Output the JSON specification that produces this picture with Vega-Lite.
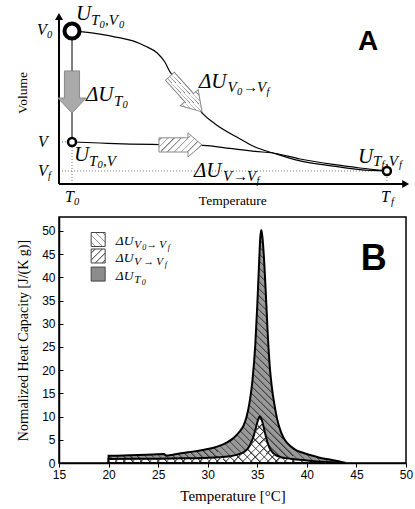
{
"$schema":"https://vega.github.io/schema/vega-lite/v6.json",
"padding":{"left":15,"top":3,"right":0,"bottom":0},
"spacing":8,
"background":"white",
"config":{"view":{"stroke":null},"axis":{"grid":false}},
"datasets":{
"dotsA":[{"T":0,"V":23.9,"T2":3.75,"V2":23.9},{"T":3.75,"V":0,"T2":3.75,"V2":23.9},{"T":0,"V":7.4,"T2":94.5,"V2":7.4},{"T":94.5,"V":0,"T2":94.5,"V2":7.4}],
"stemA":[{"T":3.75,"V":23.9,"T2":3.75,"V2":86.9}],
"axesA":[{"T":0,"V":0,"T2":0,"V2":95},{"T":0,"V":0,"T2":99.5,"V2":0}],
"headUp":[{"T":0,"V":95.2}],
"headRight":[{"T":99.9,"V":0}],
"curvesA":[
{"curve":"u","T":3.75,"V":86.9},{"curve":"u","T":6.92,"V":86.4},{"curve":"u","T":11.8,"V":85.2},{"curve":"u","T":17.6,"V":83.0},{"curve":"u","T":21.3,"V":81.3},{"curve":"u","T":24.8,"V":78.4},{"curve":"u","T":28.3,"V":74.4},{"curve":"u","T":30.5,"V":69.3},{"curve":"u","T":32.0,"V":63.6},{"curve":"u","T":34.9,"V":56.8},{"curve":"u","T":37.8,"V":50.0},{"curve":"u","T":41.5,"V":39.8},{"curve":"u","T":45.0,"V":34.1},{"curve":"u","T":52.2,"V":25.6},{"curve":"u","T":56.5,"V":21.0},{"curve":"u","T":61.7,"V":17.6},{"curve":"u","T":69.5,"V":13.1},{"curve":"u","T":79.0,"V":10.2},{"curve":"u","T":86.7,"V":8.2},{"curve":"u","T":94.5,"V":7.4},
{"curve":"l","T":3.75,"V":23.9},{"curve":"l","T":11.8,"V":23.3},{"curve":"l","T":20.5,"V":22.7},{"curve":"l","T":29.1,"V":22.4},{"curve":"l","T":41.5,"V":21.9},{"curve":"l","T":49.3,"V":20.2},{"curve":"l","T":56.5,"V":18.5},{"curve":"l","T":61.7,"V":17.6},{"curve":"l","T":69.5,"V":14.2},{"curve":"l","T":79.0,"V":11.1},{"curve":"l","T":86.7,"V":9.1},{"curve":"l","T":94.5,"V":7.4}],
"arrowT0":[{"T":3.75,"V":52.3}],
"arrowH":[{"T":35.0,"V":22.2}],
"arrowD":[{"T":36.6,"V":51.1}],
"bigCirc":[{"T":3.75,"V":86.9}],
"smallCirc":[{"T":3.75,"V":23.9},{"T":94.5,"V":7.4}],
"mainA":[{"T":4.90,"V":93.18,"s":"U"},{"T":7.78,"V":47.16,"s":"ΔU"},{"T":40.35,"V":54.55,"s":"ΔU"},{"T":4.32,"V":13.07,"s":"U"},{"T":38.90,"V":3.98,"s":"ΔU"},{"T":86.17,"V":11.93,"s":"U"}],
"subA":[{"T":9.22,"V":90.34,"s":"T"},{"T":13.26,"V":90.34,"s":",V"},{"T":15.85,"V":44.32,"s":"T"},{"T":48.56,"V":52.27,"s":"V"},{"T":53.03,"V":52.27,"s":"→"},{"T":57.06,"V":52.27,"s":"V"},{"T":8.65,"V":10.23,"s":"T"},{"T":12.68,"V":10.23,"s":",V"},{"T":47.26,"V":1.70,"s":"V"},{"T":50.14,"V":1.70,"s":"→"},{"T":54.18,"V":1.70,"s":"V"},{"T":90.49,"V":10.23,"s":"T"},{"T":93.95,"V":10.23,"s":",V"}],
"subsubA":[{"T":11.67,"V":88.92,"s":"0"},{"T":17.29,"V":88.92,"s":"0"},{"T":18.30,"V":42.90,"s":"0"},{"T":51.30,"V":50.85,"s":"0"},{"T":59.80,"V":50.85,"s":"f"},{"T":11.10,"V":8.81,"s":"0"},{"T":56.92,"V":0.28,"s":"f"},{"T":92.94,"V":8.81,"s":"f"},{"T":97.98,"V":8.81,"s":"f"},{"T":-3.46,"V":82.95,"s":"0"},{"T":-3.17,"V":2.84,"s":"f"},{"T":4.32,"V":-11.93,"s":"0"},{"T":95.68,"V":-11.93,"s":"f"}],
"axisLabA":[{"T":-6.34,"V":84.66,"s":"V"},{"T":-6.05,"V":21.02,"s":"V"},{"T":-6.05,"V":4.55,"s":"V"},{"T":1.73,"V":-10.23,"s":"T"},{"T":92.80,"V":-10.23,"s":"T"}],
"tempA":[{"T":50.1,"V":-11.9,"s":"Temperature"}],
"volA":[{"T":-10.4,"V":51.7,"s":"Volume"}],
"letterA":[{"T":86.2,"V":76.1,"s":"A"}],
"bigB":[{"T":20,"C":1.57},{"T":21.5,"C":1.6},{"T":23,"C":1.7},{"T":24.5,"C":1.85},{"T":25.6,"C":1.95},{"T":25.8,"C":1.6},{"T":26.5,"C":1.8},{"T":27.5,"C":2.15},{"T":28.5,"C":2.45},{"T":29.5,"C":2.8},{"T":30.5,"C":3.25},{"T":31.3,"C":3.8},{"T":31.9,"C":4.4},{"T":32.5,"C":5.2},{"T":32.9,"C":6.0},{"T":33.3,"C":7.0},{"T":33.6,"C":8.0},{"T":33.9,"C":9.8},{"T":34.2,"C":12.8},{"T":34.5,"C":17.5},{"T":34.8,"C":25.5},{"T":35.0,"C":34},{"T":35.2,"C":44},{"T":35.3,"C":48.5},{"T":35.4,"C":50.2},{"T":35.5,"C":49},{"T":35.65,"C":45},{"T":35.85,"C":37},{"T":36.05,"C":28},{"T":36.25,"C":21},{"T":36.5,"C":15.8},{"T":36.75,"C":12.3},{"T":37.0,"C":9.5},{"T":37.4,"C":6.6},{"T":37.8,"C":4.9},{"T":38.3,"C":3.7},{"T":38.9,"C":2.8},{"T":39.6,"C":2.2},{"T":40.5,"C":1.6},{"T":41.2,"C":1.2},{"T":42,"C":0.85},{"T":42.8,"C":0.55},{"T":43.4,"C":0.3},{"T":43.85,"C":0.05}],
"smallB":[{"T":20,"C":0.88},{"T":22.5,"C":0.9},{"T":25,"C":0.93},{"T":27.5,"C":1.0},{"T":29.5,"C":1.08},{"T":31,"C":1.22},{"T":32.2,"C":1.45},{"T":33,"C":1.8},{"T":33.6,"C":2.3},{"T":34,"C":3.0},{"T":34.3,"C":4.0},{"T":34.6,"C":5.6},{"T":34.85,"C":7.5},{"T":35.05,"C":9.1},{"T":35.25,"C":10.0},{"T":35.45,"C":9.3},{"T":35.7,"C":7.2},{"T":35.95,"C":5.0},{"T":36.2,"C":3.4},{"T":36.5,"C":2.4},{"T":36.8,"C":1.8},{"T":37.3,"C":1.3},{"T":37.9,"C":1.05},{"T":38.6,"C":0.85},{"T":39.3,"C":0.68},{"T":40.2,"C":0.5},{"T":41,"C":0.35},{"T":42,"C":0.2},{"T":43,"C":0.08},{"T":43.8,"C":0.02}],
"sq1":[{"T":18.95,"C":48.15}],
"sq2":[{"T":18.95,"C":44.6}],
"sq3":[{"T":18.95,"C":40.7}],
"legMain":[{"T":20.72,"C":46.97,"s":"ΔU"},{"T":20.72,"C":43.31,"s":"ΔU"},{"T":20.72,"C":39.43,"s":"ΔU"}],
"legSub":[{"T":22.58,"C":46.32,"s":"V"},{"T":23.79,"C":46.32,"s":"→"},{"T":25.11,"C":46.32,"s":"V"},{"T":22.58,"C":42.66,"s":"V"},{"T":23.49,"C":42.66,"s":"→"},{"T":24.80,"C":42.66,"s":"V"},{"T":22.58,"C":38.78,"s":"T"}],
"legSubSub":[{"T":23.39,"C":45.89,"s":"0"},{"T":25.96,"C":45.89,"s":"f"},{"T":25.66,"C":42.23,"s":"f"},{"T":23.34,"C":38.35,"s":"0"}],
"letterB":[{"T":45.43,"C":41.6,"s":"B"}]
},
"vconcat":[
{
"width":347,"height":176,
"encoding":{
"x":{"field":"T","type":"quantitative","scale":{"domain":[0,100],"nice":false,"zero":false},"axis":null},
"y":{"field":"V","type":"quantitative","scale":{"domain":[0,100],"nice":false,"zero":false},"axis":null}
},
"layer":[
{"data":{"name":"dotsA"},"mark":{"type":"rule","stroke":"#777","strokeWidth":1,"strokeDash":[1,2]},"encoding":{"x2":{"field":"T2"},"y2":{"field":"V2"}}},
{"data":{"name":"stemA"},"mark":{"type":"rule","stroke":"#555","strokeWidth":1.5},"encoding":{"x2":{"field":"T2"},"y2":{"field":"V2"}}},
{"data":{"name":"axesA"},"mark":{"type":"rule","stroke":"black","strokeWidth":2},"encoding":{"x2":{"field":"T2"},"y2":{"field":"V2"}}},
{"data":{"name":"headUp"},"mark":{"type":"point","shape":"triangle-up","size":64,"filled":true,"fill":"black","strokeWidth":0,"opacity":1}},
{"data":{"name":"headRight"},"mark":{"type":"point","shape":"triangle-right","size":64,"filled":true,"fill":"black","strokeWidth":0,"opacity":1}},
{"data":{"name":"curvesA"},"mark":{"type":"line","color":"black","strokeWidth":1.2,"interpolate":"monotone"},"encoding":{"detail":{"field":"curve"}}},
{"data":{"name":"arrowT0"},"mark":{"type":"point","shape":"M-1,-0.36L0.29,-0.36L0.29,-0.67L1,0L0.29,0.67L0.29,0.36L-1,0.36Z","angle":90,"size":1764,"filled":true,"fill":"#aaa","stroke":"#888","strokeWidth":1,"opacity":1}},
{"data":{"name":"arrowH"},"mark":{"type":"point","shape":"M-1,-0.33L0.35,-0.33L0.35,-0.56L1,0L0.35,0.56L0.35,0.33L-1,0.33Z","size":1849,"filled":true,"stroke":"#888","strokeWidth":1,"opacity":1,
"fill":{"gradient":"linear","x1":0,"y1":0,"x2":1.188,"y2":0.663,"stops":[{"offset":0,"color":"#777"},{"offset":0.03,"color":"#fff"},{"offset":0.1,"color":"#fff"},{"offset":0.1,"color":"#777"},{"offset":0.13,"color":"#fff"},{"offset":0.2,"color":"#fff"},{"offset":0.2,"color":"#777"},{"offset":0.23,"color":"#fff"},{"offset":0.3,"color":"#fff"},{"offset":0.3,"color":"#777"},{"offset":0.33,"color":"#fff"},{"offset":0.4,"color":"#fff"},{"offset":0.4,"color":"#777"},{"offset":0.43,"color":"#fff"},{"offset":0.5,"color":"#fff"},{"offset":0.5,"color":"#777"},{"offset":0.53,"color":"#fff"},{"offset":0.6,"color":"#fff"},{"offset":0.6,"color":"#777"},{"offset":0.63,"color":"#fff"},{"offset":0.7,"color":"#fff"},{"offset":0.7,"color":"#777"},{"offset":0.73,"color":"#fff"},{"offset":0.8,"color":"#fff"},{"offset":0.8,"color":"#777"},{"offset":0.83,"color":"#fff"},{"offset":0.9,"color":"#fff"},{"offset":0.9,"color":"#777"},{"offset":0.93,"color":"#fff"},{"offset":1,"color":"#fff"}]}}},
{"data":{"name":"arrowD"},"mark":{"type":"point","shape":"M-1,-0.25L0.2,-0.25L0.2,-0.5L1,0L0.2,0.5L0.2,0.25L-1,0.25Z","angle":48,"size":2304,"filled":true,"stroke":"#888","strokeWidth":1,"opacity":1,
"fill":{"gradient":"linear","x1":0,"y1":0,"x2":0,"y2":1,"stops":[{"offset":0,"color":"#777"},{"offset":0.04,"color":"#fff"},{"offset":0.125,"color":"#fff"},{"offset":0.125,"color":"#777"},{"offset":0.165,"color":"#fff"},{"offset":0.25,"color":"#fff"},{"offset":0.25,"color":"#777"},{"offset":0.29,"color":"#fff"},{"offset":0.375,"color":"#fff"},{"offset":0.375,"color":"#777"},{"offset":0.415,"color":"#fff"},{"offset":0.5,"color":"#fff"},{"offset":0.5,"color":"#777"},{"offset":0.54,"color":"#fff"},{"offset":0.625,"color":"#fff"},{"offset":0.625,"color":"#777"},{"offset":0.665,"color":"#fff"},{"offset":0.75,"color":"#fff"},{"offset":0.75,"color":"#777"},{"offset":0.79,"color":"#fff"},{"offset":0.875,"color":"#fff"},{"offset":0.875,"color":"#777"},{"offset":0.915,"color":"#fff"},{"offset":1,"color":"#fff"}]}}},
{"data":{"name":"bigCirc"},"mark":{"type":"point","shape":"circle","size":225,"filled":true,"fill":"white","stroke":"black","strokeWidth":4,"opacity":1}},
{"data":{"name":"smallCirc"},"mark":{"type":"point","shape":"circle","size":64,"filled":true,"fill":"white","stroke":"black","strokeWidth":2.5,"opacity":1}},
{"data":{"name":"mainA"},"mark":{"type":"text","font":"Liberation Serif","fontStyle":"italic","fontSize":21,"align":"left","baseline":"alphabetic","color":"black"},"encoding":{"text":{"field":"s"}}},
{"data":{"name":"subA"},"mark":{"type":"text","font":"Liberation Serif","fontStyle":"italic","fontSize":15,"align":"left","baseline":"alphabetic","color":"black"},"encoding":{"text":{"field":"s"}}},
{"data":{"name":"subsubA"},"mark":{"type":"text","font":"Liberation Serif","fontStyle":"italic","fontSize":10.5,"align":"left","baseline":"alphabetic","color":"black"},"encoding":{"text":{"field":"s"}}},
{"data":{"name":"axisLabA"},"mark":{"type":"text","font":"Liberation Serif","fontStyle":"italic","fontSize":16,"align":"left","baseline":"alphabetic","color":"black"},"encoding":{"text":{"field":"s"}}},
{"data":{"name":"tempA"},"mark":{"type":"text","font":"Liberation Serif","fontSize":13.5,"align":"center","baseline":"alphabetic","color":"black"},"encoding":{"text":{"field":"s"}}},
{"data":{"name":"volA"},"mark":{"type":"text","font":"Liberation Serif","fontSize":13.5,"align":"center","baseline":"middle","angle":270,"color":"black"},"encoding":{"text":{"field":"s"}}},
{"data":{"name":"letterA"},"mark":{"type":"text","font":"Liberation Sans","fontWeight":"bold","fontSize":28,"align":"left","baseline":"alphabetic","color":"black"},"encoding":{"text":{"field":"s"}}}
]
},
{
"width":347,"height":246,
"view":{"stroke":"black","strokeWidth":1.5},
"encoding":{
"x":{"field":"T","type":"quantitative","scale":{"domain":[15,50],"nice":false,"zero":false},
"axis":{"values":[15,20,25,30,35,40,45,50],"title":"Temperature [°C]","titleFont":"Liberation Serif","titleFontSize":15,"titleFontWeight":"normal","titleColor":"black","titlePadding":8,"labelFont":"Liberation Sans","labelFontSize":12,"labelColor":"black","labelPadding":2,"labelFlush":false,"tickColor":"black","tickSize":4,"domainColor":"black","domainWidth":1.5,"grid":false}},
"y":{"field":"C","type":"quantitative","stack":null,"scale":{"domain":[0,53],"nice":false},
"axis":{"values":[0,5,10,15,20,25,30,35,40,45,50],"title":"Normalized Heat Capacity [J/(K g)]","titleFont":"Liberation Serif","titleFontSize":14,"titleFontWeight":"normal","titleColor":"black","titlePadding":11,"labelFont":"Liberation Sans","labelFontSize":12,"labelColor":"black","labelPadding":8,"tickColor":"black","tickSize":-4,"domainColor":"black","domainWidth":1.5,"grid":false}}
},
"layer":[
{"data":{"name":"bigB"},"mark":{"type":"area","interpolate":"monotone","stroke":"black","strokeWidth":2,"opacity":1,
"fill":{"gradient":"linear","x1":0,"y1":1,"x2":1,"y2":0,"stops":[
{"offset":0,"color":"#333"},{"offset":0.005,"color":"#999"},{"offset":0.015,"color":"#999"},
{"offset":0.015,"color":"#333"},{"offset":0.02,"color":"#999"},{"offset":0.03,"color":"#999"},
{"offset":0.03,"color":"#333"},{"offset":0.035,"color":"#999"},{"offset":0.045,"color":"#999"},
{"offset":0.045,"color":"#333"},{"offset":0.05,"color":"#999"},{"offset":0.06,"color":"#999"},
{"offset":0.06,"color":"#333"},{"offset":0.065,"color":"#999"},{"offset":0.075,"color":"#999"},
{"offset":0.075,"color":"#333"},{"offset":0.08,"color":"#999"},{"offset":0.09,"color":"#999"},
{"offset":0.09,"color":"#333"},{"offset":0.095,"color":"#999"},{"offset":0.105,"color":"#999"},
{"offset":0.105,"color":"#333"},{"offset":0.11,"color":"#999"},{"offset":0.12,"color":"#999"},
{"offset":0.12,"color":"#333"},{"offset":0.125,"color":"#999"},{"offset":0.135,"color":"#999"},
{"offset":0.135,"color":"#333"},{"offset":0.14,"color":"#999"},{"offset":0.15,"color":"#999"},
{"offset":0.15,"color":"#333"},{"offset":0.155,"color":"#999"},{"offset":0.165,"color":"#999"},
{"offset":0.165,"color":"#333"},{"offset":0.17,"color":"#999"},{"offset":0.18,"color":"#999"},
{"offset":0.18,"color":"#333"},{"offset":0.185,"color":"#999"},{"offset":0.195,"color":"#999"},
{"offset":0.195,"color":"#333"},{"offset":0.2,"color":"#999"},{"offset":0.21,"color":"#999"},
{"offset":0.21,"color":"#333"},{"offset":0.215,"color":"#999"},{"offset":0.225,"color":"#999"},
{"offset":0.225,"color":"#333"},{"offset":0.23,"color":"#999"},{"offset":0.24,"color":"#999"},
{"offset":0.24,"color":"#333"},{"offset":0.245,"color":"#999"},{"offset":0.255,"color":"#999"},
{"offset":0.255,"color":"#333"},{"offset":0.26,"color":"#999"},{"offset":0.27,"color":"#999"},
{"offset":0.27,"color":"#333"},{"offset":0.275,"color":"#999"},{"offset":0.285,"color":"#999"},
{"offset":0.285,"color":"#333"},{"offset":0.29,"color":"#999"},{"offset":0.3,"color":"#999"},
{"offset":0.3,"color":"#333"},{"offset":0.305,"color":"#999"},{"offset":0.315,"color":"#999"},
{"offset":0.315,"color":"#333"},{"offset":0.32,"color":"#999"},{"offset":0.33,"color":"#999"},
{"offset":0.33,"color":"#333"},{"offset":0.335,"color":"#999"},{"offset":0.345,"color":"#999"},
{"offset":0.345,"color":"#333"},{"offset":0.35,"color":"#999"},{"offset":0.36,"color":"#999"},
{"offset":0.36,"color":"#333"},{"offset":0.365,"color":"#999"},{"offset":0.375,"color":"#999"},
{"offset":0.375,"color":"#333"},{"offset":0.38,"color":"#999"},{"offset":0.39,"color":"#999"},
{"offset":0.39,"color":"#333"},{"offset":0.395,"color":"#999"},{"offset":0.405,"color":"#999"},
{"offset":0.405,"color":"#333"},{"offset":0.41,"color":"#999"},{"offset":0.42,"color":"#999"},
{"offset":0.42,"color":"#333"},{"offset":0.425,"color":"#999"},{"offset":0.435,"color":"#999"},
{"offset":0.435,"color":"#333"},{"offset":0.44,"color":"#999"},{"offset":0.45,"color":"#999"},
{"offset":0.45,"color":"#333"},{"offset":0.455,"color":"#999"},{"offset":0.465,"color":"#999"},
{"offset":0.465,"color":"#333"},{"offset":0.47,"color":"#999"},{"offset":0.48,"color":"#999"},
{"offset":0.48,"color":"#333"},{"offset":0.485,"color":"#999"},{"offset":0.495,"color":"#999"},
{"offset":0.495,"color":"#333"},{"offset":0.5,"color":"#999"},{"offset":0.51,"color":"#999"},
{"offset":0.51,"color":"#333"},{"offset":0.515,"color":"#999"},{"offset":0.525,"color":"#999"},
{"offset":0.525,"color":"#333"},{"offset":0.53,"color":"#999"},{"offset":0.54,"color":"#999"},
{"offset":0.54,"color":"#333"},{"offset":0.545,"color":"#999"},{"offset":0.555,"color":"#999"},
{"offset":0.555,"color":"#333"},{"offset":0.56,"color":"#999"},{"offset":0.57,"color":"#999"},
{"offset":0.57,"color":"#333"},{"offset":0.575,"color":"#999"},{"offset":0.585,"color":"#999"},
{"offset":0.585,"color":"#333"},{"offset":0.59,"color":"#999"},{"offset":0.6,"color":"#999"},
{"offset":0.6,"color":"#333"},{"offset":0.605,"color":"#999"},{"offset":0.615,"color":"#999"},
{"offset":0.615,"color":"#333"},{"offset":0.62,"color":"#999"},{"offset":0.63,"color":"#999"},
{"offset":0.63,"color":"#333"},{"offset":0.635,"color":"#999"},{"offset":0.645,"color":"#999"},
{"offset":0.645,"color":"#333"},{"offset":0.65,"color":"#999"},{"offset":0.66,"color":"#999"},
{"offset":0.66,"color":"#333"},{"offset":0.665,"color":"#999"},{"offset":0.675,"color":"#999"},
{"offset":0.675,"color":"#333"},{"offset":0.68,"color":"#999"},{"offset":0.69,"color":"#999"},
{"offset":0.69,"color":"#333"},{"offset":0.695,"color":"#999"},{"offset":0.705,"color":"#999"},
{"offset":0.705,"color":"#333"},{"offset":0.71,"color":"#999"},{"offset":0.72,"color":"#999"},
{"offset":0.72,"color":"#333"},{"offset":0.725,"color":"#999"},{"offset":0.735,"color":"#999"},
{"offset":0.735,"color":"#333"},{"offset":0.74,"color":"#999"},{"offset":0.75,"color":"#999"},
{"offset":0.75,"color":"#333"},{"offset":0.755,"color":"#999"},{"offset":0.765,"color":"#999"},
{"offset":0.765,"color":"#333"},{"offset":0.77,"color":"#999"},{"offset":0.78,"color":"#999"},
{"offset":0.78,"color":"#333"},{"offset":0.785,"color":"#999"},{"offset":0.795,"color":"#999"},
{"offset":0.795,"color":"#333"},{"offset":0.8,"color":"#999"},{"offset":0.81,"color":"#999"},
{"offset":0.81,"color":"#333"},{"offset":0.815,"color":"#999"},{"offset":0.825,"color":"#999"},
{"offset":0.825,"color":"#333"},{"offset":0.83,"color":"#999"},{"offset":0.84,"color":"#999"},
{"offset":0.84,"color":"#333"},{"offset":0.845,"color":"#999"},{"offset":0.855,"color":"#999"},
{"offset":0.855,"color":"#333"},{"offset":0.86,"color":"#999"},{"offset":0.87,"color":"#999"},
{"offset":0.87,"color":"#333"},{"offset":0.875,"color":"#999"},{"offset":0.885,"color":"#999"},
{"offset":0.885,"color":"#333"},{"offset":0.89,"color":"#999"},{"offset":0.9,"color":"#999"},
{"offset":0.9,"color":"#333"},{"offset":0.905,"color":"#999"},{"offset":0.915,"color":"#999"},
{"offset":0.915,"color":"#333"},{"offset":0.92,"color":"#999"},{"offset":0.93,"color":"#999"},
{"offset":0.93,"color":"#333"},{"offset":0.935,"color":"#999"},{"offset":0.945,"color":"#999"},
{"offset":0.945,"color":"#333"},{"offset":0.95,"color":"#999"},{"offset":0.96,"color":"#999"},
{"offset":0.96,"color":"#333"},{"offset":0.965,"color":"#999"},{"offset":0.975,"color":"#999"},
{"offset":0.975,"color":"#333"},{"offset":0.98,"color":"#999"},{"offset":0.99,"color":"#999"},
{"offset":0.99,"color":"#333"},{"offset":0.995,"color":"#999"},{"offset":1,"color":"#999"}]}}},
{"data":{"name":"smallB"},"mark":{"type":"area","interpolate":"monotone","stroke":"black","strokeWidth":2,"opacity":1,
"fill":{"gradient":"linear","x1":0,"y1":1,"x2":1.151,"y2":0.776,"stops":[
{"offset":0,"color":"#333"},{"offset":0.008,"color":"#fff"},{"offset":0.03,"color":"#fff"},
{"offset":0.03,"color":"#333"},{"offset":0.038,"color":"#fff"},{"offset":0.06,"color":"#fff"},
{"offset":0.06,"color":"#333"},{"offset":0.068,"color":"#fff"},{"offset":0.09,"color":"#fff"},
{"offset":0.09,"color":"#333"},{"offset":0.098,"color":"#fff"},{"offset":0.12,"color":"#fff"},
{"offset":0.12,"color":"#333"},{"offset":0.128,"color":"#fff"},{"offset":0.15,"color":"#fff"},
{"offset":0.15,"color":"#333"},{"offset":0.158,"color":"#fff"},{"offset":0.18,"color":"#fff"},
{"offset":0.18,"color":"#333"},{"offset":0.188,"color":"#fff"},{"offset":0.21,"color":"#fff"},
{"offset":0.21,"color":"#333"},{"offset":0.218,"color":"#fff"},{"offset":0.24,"color":"#fff"},
{"offset":0.24,"color":"#333"},{"offset":0.248,"color":"#fff"},{"offset":0.27,"color":"#fff"},
{"offset":0.27,"color":"#333"},{"offset":0.278,"color":"#fff"},{"offset":0.3,"color":"#fff"},
{"offset":0.3,"color":"#333"},{"offset":0.308,"color":"#fff"},{"offset":0.33,"color":"#fff"},
{"offset":0.33,"color":"#333"},{"offset":0.338,"color":"#fff"},{"offset":0.36,"color":"#fff"},
{"offset":0.36,"color":"#333"},{"offset":0.368,"color":"#fff"},{"offset":0.39,"color":"#fff"},
{"offset":0.39,"color":"#333"},{"offset":0.398,"color":"#fff"},{"offset":0.42,"color":"#fff"},
{"offset":0.42,"color":"#333"},{"offset":0.428,"color":"#fff"},{"offset":0.45,"color":"#fff"},
{"offset":0.45,"color":"#333"},{"offset":0.458,"color":"#fff"},{"offset":0.48,"color":"#fff"},
{"offset":0.48,"color":"#333"},{"offset":0.488,"color":"#fff"},{"offset":0.51,"color":"#fff"},
{"offset":0.51,"color":"#333"},{"offset":0.518,"color":"#fff"},{"offset":0.54,"color":"#fff"},
{"offset":0.54,"color":"#333"},{"offset":0.548,"color":"#fff"},{"offset":0.57,"color":"#fff"},
{"offset":0.57,"color":"#333"},{"offset":0.578,"color":"#fff"},{"offset":0.6,"color":"#fff"},
{"offset":0.6,"color":"#333"},{"offset":0.608,"color":"#fff"},{"offset":0.63,"color":"#fff"},
{"offset":0.63,"color":"#333"},{"offset":0.638,"color":"#fff"},{"offset":0.66,"color":"#fff"},
{"offset":0.66,"color":"#333"},{"offset":0.668,"color":"#fff"},{"offset":0.69,"color":"#fff"},
{"offset":0.69,"color":"#333"},{"offset":0.698,"color":"#fff"},{"offset":0.72,"color":"#fff"},
{"offset":0.72,"color":"#333"},{"offset":0.728,"color":"#fff"},{"offset":0.75,"color":"#fff"},
{"offset":0.75,"color":"#333"},{"offset":0.758,"color":"#fff"},{"offset":0.78,"color":"#fff"},
{"offset":0.78,"color":"#333"},{"offset":0.788,"color":"#fff"},{"offset":0.81,"color":"#fff"},
{"offset":0.81,"color":"#333"},{"offset":0.818,"color":"#fff"},{"offset":0.84,"color":"#fff"},
{"offset":0.84,"color":"#333"},{"offset":0.848,"color":"#fff"},{"offset":0.87,"color":"#fff"},
{"offset":0.87,"color":"#333"},{"offset":0.878,"color":"#fff"},{"offset":0.9,"color":"#fff"},
{"offset":0.9,"color":"#333"},{"offset":0.908,"color":"#fff"},{"offset":0.93,"color":"#fff"},
{"offset":0.93,"color":"#333"},{"offset":0.938,"color":"#fff"},{"offset":0.96,"color":"#fff"},
{"offset":0.96,"color":"#333"},{"offset":0.968,"color":"#fff"},{"offset":0.99,"color":"#fff"},
{"offset":0.99,"color":"#333"},{"offset":0.998,"color":"#fff"},{"offset":1,"color":"#fff"}]}}},
{"data":{"name":"smallB"},"mark":{"type":"area","interpolate":"monotone","strokeWidth":0,"opacity":1,
"fill":{"gradient":"linear","x1":0,"y1":0,"x2":1.151,"y2":0.2245,"stops":[
{"offset":0,"color":"#333"},{"offset":0.008,"color":"transparent"},{"offset":0.03,"color":"transparent"},
{"offset":0.03,"color":"#333"},{"offset":0.038,"color":"transparent"},{"offset":0.06,"color":"transparent"},
{"offset":0.06,"color":"#333"},{"offset":0.068,"color":"transparent"},{"offset":0.09,"color":"transparent"},
{"offset":0.09,"color":"#333"},{"offset":0.098,"color":"transparent"},{"offset":0.12,"color":"transparent"},
{"offset":0.12,"color":"#333"},{"offset":0.128,"color":"transparent"},{"offset":0.15,"color":"transparent"},
{"offset":0.15,"color":"#333"},{"offset":0.158,"color":"transparent"},{"offset":0.18,"color":"transparent"},
{"offset":0.18,"color":"#333"},{"offset":0.188,"color":"transparent"},{"offset":0.21,"color":"transparent"},
{"offset":0.21,"color":"#333"},{"offset":0.218,"color":"transparent"},{"offset":0.24,"color":"transparent"},
{"offset":0.24,"color":"#333"},{"offset":0.248,"color":"transparent"},{"offset":0.27,"color":"transparent"},
{"offset":0.27,"color":"#333"},{"offset":0.278,"color":"transparent"},{"offset":0.3,"color":"transparent"},
{"offset":0.3,"color":"#333"},{"offset":0.308,"color":"transparent"},{"offset":0.33,"color":"transparent"},
{"offset":0.33,"color":"#333"},{"offset":0.338,"color":"transparent"},{"offset":0.36,"color":"transparent"},
{"offset":0.36,"color":"#333"},{"offset":0.368,"color":"transparent"},{"offset":0.39,"color":"transparent"},
{"offset":0.39,"color":"#333"},{"offset":0.398,"color":"transparent"},{"offset":0.42,"color":"transparent"},
{"offset":0.42,"color":"#333"},{"offset":0.428,"color":"transparent"},{"offset":0.45,"color":"transparent"},
{"offset":0.45,"color":"#333"},{"offset":0.458,"color":"transparent"},{"offset":0.48,"color":"transparent"},
{"offset":0.48,"color":"#333"},{"offset":0.488,"color":"transparent"},{"offset":0.51,"color":"transparent"},
{"offset":0.51,"color":"#333"},{"offset":0.518,"color":"transparent"},{"offset":0.54,"color":"transparent"},
{"offset":0.54,"color":"#333"},{"offset":0.548,"color":"transparent"},{"offset":0.57,"color":"transparent"},
{"offset":0.57,"color":"#333"},{"offset":0.578,"color":"transparent"},{"offset":0.6,"color":"transparent"},
{"offset":0.6,"color":"#333"},{"offset":0.608,"color":"transparent"},{"offset":0.63,"color":"transparent"},
{"offset":0.63,"color":"#333"},{"offset":0.638,"color":"transparent"},{"offset":0.66,"color":"transparent"},
{"offset":0.66,"color":"#333"},{"offset":0.668,"color":"transparent"},{"offset":0.69,"color":"transparent"},
{"offset":0.69,"color":"#333"},{"offset":0.698,"color":"transparent"},{"offset":0.72,"color":"transparent"},
{"offset":0.72,"color":"#333"},{"offset":0.728,"color":"transparent"},{"offset":0.75,"color":"transparent"},
{"offset":0.75,"color":"#333"},{"offset":0.758,"color":"transparent"},{"offset":0.78,"color":"transparent"},
{"offset":0.78,"color":"#333"},{"offset":0.788,"color":"transparent"},{"offset":0.81,"color":"transparent"},
{"offset":0.81,"color":"#333"},{"offset":0.818,"color":"transparent"},{"offset":0.84,"color":"transparent"},
{"offset":0.84,"color":"#333"},{"offset":0.848,"color":"transparent"},{"offset":0.87,"color":"transparent"},
{"offset":0.87,"color":"#333"},{"offset":0.878,"color":"transparent"},{"offset":0.9,"color":"transparent"},
{"offset":0.9,"color":"#333"},{"offset":0.908,"color":"transparent"},{"offset":0.93,"color":"transparent"},
{"offset":0.93,"color":"#333"},{"offset":0.938,"color":"transparent"},{"offset":0.96,"color":"transparent"},
{"offset":0.96,"color":"#333"},{"offset":0.968,"color":"transparent"},{"offset":0.99,"color":"transparent"},
{"offset":0.99,"color":"#333"},{"offset":0.998,"color":"transparent"},{"offset":1,"color":"transparent"}]}}},
{"data":{"name":"sq1"},"mark":{"type":"point","shape":"square","size":196,"filled":true,"stroke":"#444","strokeWidth":1,"opacity":1,
"fill":{"gradient":"linear","x1":0,"y1":1,"x2":1,"y2":0,"stops":[{"offset":0,"color":"#fff"},{"offset":0.125,"color":"#fff"},{"offset":0.125,"color":"#444"},{"offset":0.195,"color":"#fff"},{"offset":0.375,"color":"#fff"},{"offset":0.375,"color":"#444"},{"offset":0.445,"color":"#fff"},{"offset":0.625,"color":"#fff"},{"offset":0.625,"color":"#444"},{"offset":0.695,"color":"#fff"},{"offset":0.875,"color":"#fff"},{"offset":0.875,"color":"#444"},{"offset":0.945,"color":"#fff"},{"offset":1,"color":"#fff"}]}}},
{"data":{"name":"sq2"},"mark":{"type":"point","shape":"square","size":196,"filled":true,"stroke":"#444","strokeWidth":1,"opacity":1,
"fill":{"gradient":"linear","x1":0,"y1":0,"x2":1,"y2":1,"stops":[{"offset":0,"color":"#fff"},{"offset":0.125,"color":"#fff"},{"offset":0.125,"color":"#444"},{"offset":0.195,"color":"#fff"},{"offset":0.375,"color":"#fff"},{"offset":0.375,"color":"#444"},{"offset":0.445,"color":"#fff"},{"offset":0.625,"color":"#fff"},{"offset":0.625,"color":"#444"},{"offset":0.695,"color":"#fff"},{"offset":0.875,"color":"#fff"},{"offset":0.875,"color":"#444"},{"offset":0.945,"color":"#fff"},{"offset":1,"color":"#fff"}]}}},
{"data":{"name":"sq3"},"mark":{"type":"point","shape":"square","size":196,"filled":true,"fill":"#8c8c8c","stroke":"#444","strokeWidth":1,"opacity":1}},
{"data":{"name":"legMain"},"mark":{"type":"text","font":"Liberation Serif","fontStyle":"italic","fontSize":13.5,"align":"left","baseline":"alphabetic","color":"black"},"encoding":{"text":{"field":"s"}}},
{"data":{"name":"legSub"},"mark":{"type":"text","font":"Liberation Serif","fontStyle":"italic","fontSize":11,"align":"left","baseline":"alphabetic","color":"black"},"encoding":{"text":{"field":"s"}}},
{"data":{"name":"legSubSub"},"mark":{"type":"text","font":"Liberation Serif","fontStyle":"italic","fontSize":8,"align":"left","baseline":"alphabetic","color":"black"},"encoding":{"text":{"field":"s"}}},
{"data":{"name":"letterB"},"mark":{"type":"text","font":"Liberation Sans","fontWeight":"bold","fontSize":36,"align":"left","baseline":"alphabetic","color":"black"},"encoding":{"text":{"field":"s"}}}
]
}
]
}
